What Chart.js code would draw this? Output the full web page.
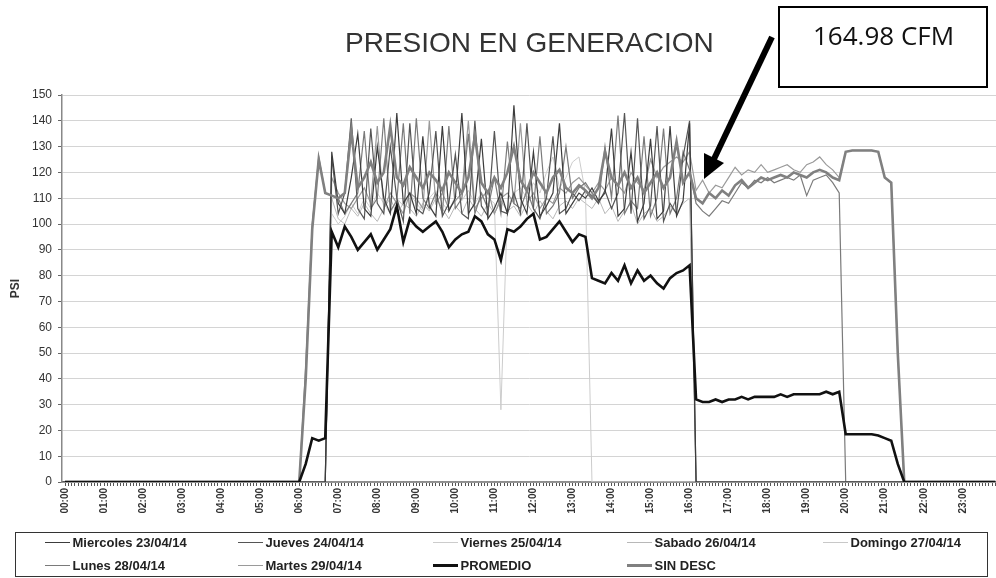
<!DOCTYPE html>
<html>
<head>
<meta charset="utf-8">
<script src="https://cdn.jsdelivr.net/npm/chart.js@4.4.1/dist/chart.umd.min.js"></script>
<style>
  body { margin: 0; background: #fff; }
  #wrap { position: relative; width: 996px; height: 578px; overflow: hidden; font-family: "Liberation Sans", Arial, sans-serif; }
  #chart { position: absolute; left: 0; top: 0; }
  #title { position: absolute; left: 345px; top: 29px; font-size: 28px; line-height: 28px; color: #333; white-space: nowrap; }
  #note { position: absolute; left: 778px; top: 6px; width: 210px; height: 82px; box-sizing: border-box; border: 2px solid #000; background: #fff; }
  #noteText { position: absolute; left: 813px; top: 22px; font-family: "Open Sans", sans-serif; font-size: 26px; line-height: 26px; color: #111; white-space: nowrap; }
  #arrow { position: absolute; left: 0; top: 0; }
  #legend { position: absolute; left: 15px; top: 532px; width: 973px; height: 45px; box-sizing: border-box; border: 1.5px solid #333; }
  #legend .item { position: absolute; height: 16px; display: flex; align-items: center; font-size: 13px; font-weight: bold; color: #222; white-space: nowrap; }
  #legend .swatch { display: inline-block; width: 25px; margin-right: 3px; }
</style>
</head>
<body>
<div id="wrap">
  <canvas id="chart" width="996" height="578"></canvas>
  <div id="title">PRESION EN GENERACION</div>
  <svg id="arrow" width="996" height="578">
    <line x1="772" y1="37" x2="714" y2="159" stroke="#000" stroke-width="6"/>
    <polygon points="704,179 724,163 704,153" fill="#000"/>
  </svg>
  <div id="note"></div>
  <div id="noteText">164.98 CFM</div>
  <div id="legend"></div>
</div>
<script>
// === Data (10 minute samples) ===
const times = ['00:00',
  '06:00','06:10','06:20','06:30','06:40','06:50', '07:00','07:10','07:20','07:30','07:40','07:50',
  '08:00','08:10','08:20','08:30','08:40','08:50', '09:00','09:10','09:20','09:30','09:40','09:50',
  '10:00','10:10','10:20','10:30','10:40','10:50', '11:00','11:10','11:20','11:30','11:40','11:50',
  '12:00','12:10','12:20','12:30','12:40','12:50', '13:00','13:10','13:20','13:30','13:40','13:50',
  '14:00','14:10','14:20','14:30','14:40','14:50', '15:00','15:10','15:20','15:30','15:40','15:50',
  '16:00','16:10','16:20','16:30','16:40','16:50', '17:00','17:10','17:20','17:30','17:40','17:50',
  '18:00','18:10','18:20','18:30','18:40','18:50', '19:00','19:10','19:20','19:30','19:40','19:50',
  '20:00','20:10','20:20','20:30','20:40','20:50', '21:00','21:10','21:20','21:30','21:40','21:50',
  '22:00', '23:50'];

const hourLabels = ['00:00','01:00','02:00','03:00','04:00','05:00','06:00','07:00','08:00','09:00','10:00','11:00',
  '12:00','13:00','14:00','15:00','16:00','17:00','18:00','19:00','20:00','21:00','22:00','23:00'];

const miercoles = [0,
  0,0,0,0,0,128, 108,104,118,135,106,103,
  130,110,104,143,108,112, 104,134,107,103,138,105,
  110,143,104,108,133,102, 106,112,104,146,110,104,
  128,103,107,112,139,104, 108,112,110,114,109,112,
  137,103,106,128,101,108, 133,102,105,138,103,109,
  139,0,0,0,0,0, 0,0,0,0,0,0,
  0,0,0,0,0,0, 0,0,0,0,0,0,
  0,0,0,0,0,0, 0,0,0,0,0,0,
  0, 0];

const jueves = [0,
  0,0,0,0,0,126, 104,112,141,106,102,137,
  108,104,130,110,101,139, 106,104,112,136,103,108,
  127,104,102,140,107,103, 136,105,104,112,104,139,
  106,102,110,134,104,106, 112,109,113,111,108,113,
  106,112,143,104,141,102, 107,138,101,108,104,126,
  140,0,0,0,0,0, 0,0,0,0,0,0,
  0,0,0,0,0,0, 0,0,0,0,0,0,
  0,0,0,0,0,0, 0,0,0,0,0,0,
  0, 0];

const viernes = [0,
  0,0,0,0,0,104, 100,103,108,104,110,106,
  112,108,104,110,107,112, 108,105,110,113,108,105,
  111,109,113,108,112,110, 108,28,106,112,114,110,
  116,112,120,126,114,118, 124,126,112,0,0,0,
  0,0,0,0,0,0, 0,0,0,0,0,0,
  0,0,0,0,0,0, 0,0,0,0,0,0,
  0,0,0,0,0,0, 0,0,0,0,0,0,
  0,0,0,0,0,0, 0,0,0,0,0,0,
  0, 0];

const sabado = [0,
  0,0,0,0,0,110, 102,100,106,103,108,104,
  101,106,110,104,108,106, 103,108,105,110,106,102,
  107,104,110,106,103,108, 104,109,105,107,103,108,
  104,109,105,102,107,109, 106,110,108,106,110,104,
  107,101,105,108,100,104, 106,101,103,107,104,108,
  110,0,0,0,0,0, 0,0,0,0,0,0,
  0,0,0,0,0,0, 0,0,0,0,0,0,
  0,0,0,0,0,0, 0,0,0,0,0,0,
  0, 0];

const domingo = [0,
  0,0,0,0,0,0, 0,0,0,0,0,0,
  0,0,0,0,0,0, 0,0,0,0,0,0,
  0,0,0,0,0,0, 0,0,0,0,0,0,
  0,0,0,0,0,0, 0,0,0,0,0,0,
  0,0,0,0,0,0, 0,0,0,0,0,0,
  0,0,0,0,0,0, 0,0,0,0,0,0,
  0,0,0,0,0,0, 0,0,0,0,0,0,
  0,0,0,0,0,0, 0,0,0,0,0,0,
  0, 0];

const lunes = [0,
  0,45,100,126,112,111, 110,104,108,112,136,106,
  110,141,105,109,139,104, 141,110,106,112,104,138,
  106,110,135,104,112,106, 118,104,132,108,106,113,
  106,134,104,107,112,130, 110,114,116,112,108,130,
  110,142,104,109,106,134, 103,110,137,104,110,128,
  121,108,105,103,106,109, 108,112,116,114,117,116,
  118,116,117,118,117,119, 111,117,118,119,116,112,
  0,0,0,0,0,0, 0,0,0,0,0,0,
  0, 0];

const martes = [0,
  0,0,0,0,0,118, 112,108,106,110,114,108,
  138,106,112,108,104,112, 110,106,140,108,112,106,
  109,112,140,106,110,113, 104,110,112,108,139,108,
  112,106,110,108,114,112, 116,118,115,112,116,113,
  118,115,112,120,116,113, 125,118,122,124,126,124,
  128,113,117,112,115,114, 118,122,119,121,120,123,
  120,121,122,123,121,120, 123,124,126,123,121,118,
  128,128.5,128.5,128.5,128.5,128, 118,116,50,0,0,0,
  0, 0];

const promedio = [0,
  0,7,17,16,17,97, 91,99,95,90,93,96,
  90,94,98,107,93,102, 99,97,99,101,97,91,
  94,96,97,103,101,96, 94,86,98,97,99,102,
  104,94,95,98,101,97, 93,96,95,79,78,77,
  81,78,84,77,82,78, 80,77,75,79,81,82,
  84,32,31,31,32,31, 32,32,33,32,33,33,
  33,33,34,33,34,34, 34,34,34,35,34,35,
  18.5,18.5,18.5,18.5,18.5,18, 17,16,7,0,0,0,
  0, 0];

const sinDesc = [0,
  0,40,98,125,112,111, 110,112,136,114,118,124,
  116,120,138,118,115,122, 118,114,120,117,113,120,
  116,112,118,134,116,112, 118,114,120,130,117,113,
  120,116,112,118,121,114, 112,115,113,110,114,128,
  118,115,120,114,118,112, 116,120,114,118,132,116,
  120,110,108,112,110,113, 111,115,117,114,116,118,
  117,118,119,118,120,119, 118,120,121,120,118,117,
  128,128.5,128.5,128.5,128.5,128, 118,116,50,0,0,0,
  0, 0];

// === Chart ===
const hours = times.map(t => {
  const [h, m] = t.split(':').map(Number);
  return h + m / 60;
});
const pts = vals => vals.map((v, i) => ({ x: hours[i], y: v }));

// minor ticks every 5 minutes along the time axis
const tickValues = [];
for (let k = 0; k <= 286; k++) tickValues.push(k / 12);

const family = '"Liberation Sans", Arial, sans-serif';

function line(label, data, color, width, order) {
  return { label, data: pts(data), borderColor: color, backgroundColor: color, borderWidth: width, order };
}

const chart = new Chart(document.getElementById('chart'), {
  type: 'line',
  data: {
    datasets: [
      line('Miercoles 23/04/14', miercoles, '#3c3c3c', 1.2, 3),
      line('Jueves 24/04/14', jueves, '#555555', 1.2, 3),
      line('Viernes 25/04/14', viernes, '#cccccc', 1, 4),
      line('Sabado 26/04/14', sabado, '#b8b8b8', 1, 4),
      line('Domingo 27/04/14', domingo, '#c8c8c8', 1, 5),
      line('Lunes 28/04/14', lunes, '#7a7a7a', 1.2, 3),
      line('Martes 29/04/14', martes, '#9a9a9a', 1.2, 3),
      line('PROMEDIO', promedio, '#111111', 2.6, 0),
      line('SIN DESC', sinDesc, '#808080', 2.6, 1)
    ]
  },
  options: {
    responsive: false,
    animation: false,
    layout: { padding: { top: 95, left: 0, right: 0, bottom: 48 } },
    plugins: { legend: { display: false }, tooltip: { enabled: false } },
    elements: { point: { radius: 0 }, line: { tension: 0 } },
    scales: {
      x: {
        type: 'linear',
        min: -0.077,
        max: 23.85,
        afterFit: s => { s.height = 48; s.paddingLeft = 0; s.paddingRight = 0; },
        afterBuildTicks: s => { s.ticks = tickValues.map(v => ({ value: v })); },
        grid: { drawOnChartArea: false, tickLength: 4, color: '#555' },
        border: { color: '#555', width: 1.5 },
        ticks: {
          autoSkip: false, maxRotation: 90, minRotation: 90, padding: 2,
          color: '#333', font: { family, size: 10, weight: 'bold' },
          callback: v => {
            const h = Math.round(v);
            return Math.abs(v - h) < 1e-6 && hourLabels[h] ? hourLabels[h] : '';
          }
        }
      },
      y: {
        min: 0,
        max: 150,
        afterFit: s => { s.width = 62; },
        grid: { color: '#d4d4d4', tickLength: 4, tickColor: '#666' },
        border: { color: '#888', width: 1.5 },
        ticks: { stepSize: 10, padding: 6, color: '#333', font: { family, size: 12 } },
        title: { display: true, text: 'PSI', color: '#333', font: { family, size: 12, weight: 'bold' }, padding: { top: 8, bottom: 0 } }
      }
    }
  }
});

// === Legend (5 columns, 2 rows) ===
const colX = [28.5, 221.5, 416.5, 610.5, 806.5];
document.getElementById('legend').innerHTML = chart.data.datasets.map((ds, i) => `
  <div class="item" style="left:${colX[i % 5]}px;top:${i < 5 ? 1.5 : 24.5}px">
    <span class="swatch" style="background:${ds.borderColor};height:${ds.borderWidth > 2 ? 2.5 : 1.5}px"></span>${ds.label}
  </div>`).join('');
</script>
</body>
</html>
